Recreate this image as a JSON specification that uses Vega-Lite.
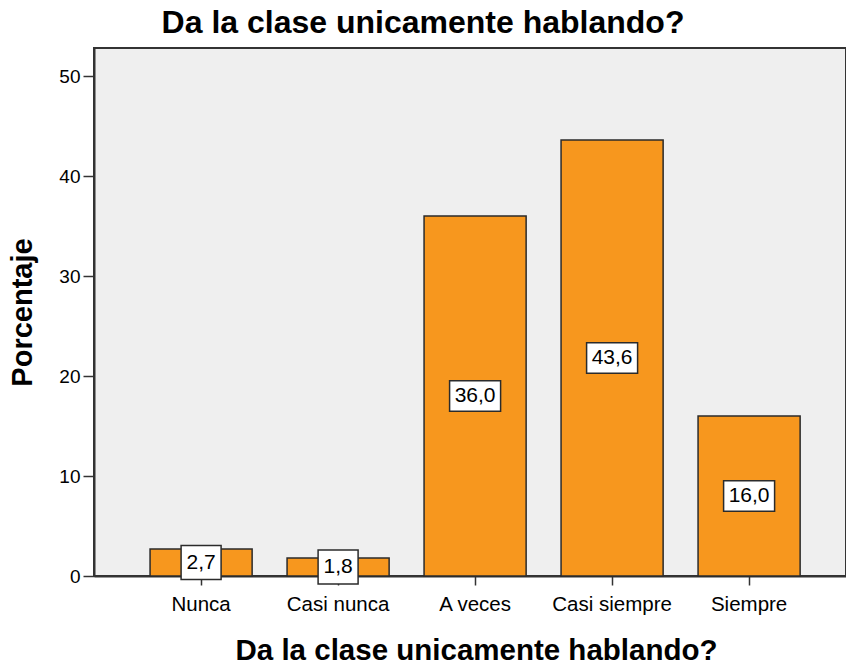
{
  "$schema": "https://vega.github.io/schema/vega-lite/v6.json",
  "autosize": {"type": "none"},
  "padding": {"left": 94, "top": 48, "right": 0, "bottom": 89},
  "width": 752,
  "height": 528,
  "background": "white",
  "title": {
    "text": "Da la clase unicamente hablando?",
    "font": "Liberation Sans",
    "fontSize": 32,
    "fontWeight": "bold",
    "color": "#000000",
    "anchor": "middle",
    "dx": -47,
    "dy": 30,
    "offset": 13,
    "baseline": "alphabetic"
  },
  "data": {
    "values": [
      {"categoria": "Nunca", "pct": 2.7, "etiqueta": "2,7"},
      {"categoria": "Casi nunca", "pct": 1.8, "etiqueta": "1,8"},
      {"categoria": "A veces", "pct": 36.0, "etiqueta": "36,0"},
      {"categoria": "Casi siempre", "pct": 43.6, "etiqueta": "43,6"},
      {"categoria": "Siempre", "pct": 16.0, "etiqueta": "16,0"}
    ]
  },
  "transform": [{"calculate": "datum.pct / 2", "as": "mitad"}],
  "encoding": {
    "x": {
      "field": "categoria",
      "type": "nominal",
      "sort": ["Nunca", "Casi nunca", "A veces", "Casi siempre", "Siempre"],
      "scale": {"paddingInner": 0.255, "paddingOuter": 0.372, "align": 0.55},
      "axis": {
        "title": "Da la clase unicamente hablando?",
        "titleFont": "Liberation Sans",
        "titleFontSize": 29.5,
        "titleFontWeight": "bold",
        "titleColor": "#000000",
        "titleBaseline": "alphabetic",
        "titleX": 382,
        "titleAlign": "center",
        "titleY": 83,
        "labelAngle": 0,
        "labelFont": "Liberation Sans",
        "labelFontSize": 20.5,
        "labelColor": "#000000",
        "labelBaseline": "top",
        "labelPadding": 9,
        "tickSize": 9,
        "tickColor": "#333333",
        "tickWidth": 1.5,
        "domainColor": "#333333",
        "domainWidth": 2,
        "grid": false
      }
    }
  },
  "layer": [
    {
      "mark": {"type": "bar", "color": "#f7971e", "stroke": "#2b2b2b", "strokeWidth": 1.5},
      "encoding": {
        "y": {
          "field": "pct",
          "type": "quantitative",
          "scale": {"domain": [0, 52.8], "nice": false},
          "axis": {
            "title": "Porcentaje",
            "titleFont": "Liberation Sans",
            "titleFontSize": 29,
            "titleFontWeight": "bold",
            "titleColor": "#000000",
            "titleAngle": -90,
            "titleX": -72,
            "titleY": 264,
            "titleAlign": "center",
            "titleBaseline": "middle",
            "values": [0, 10, 20, 30, 40, 50],
            "labelFont": "Liberation Sans",
            "labelFontSize": 19,
            "labelColor": "#000000",
            "labelPadding": 3,
            "tickSize": 11,
            "tickColor": "#333333",
            "tickWidth": 1.5,
            "domainColor": "#333333",
            "domainWidth": 2,
            "grid": false
          }
        }
      }
    },
    {
      "mark": {"type": "point", "filled": true, "fill": "white", "stroke": "#2b2b2b", "strokeWidth": 1.5, "opacity": 1},
      "encoding": {
        "y": {"field": "mitad", "type": "quantitative"},
        "shape": {
          "condition": {"test": "datum.pct >= 10", "value": "M-1,-0.6H1V0.6H-1Z"},
          "value": "M-1,-0.85H1V0.85H-1Z"
        },
        "size": {
          "condition": {"test": "datum.pct >= 10", "value": 2600},
          "value": 1600
        }
      }
    },
    {
      "mark": {"type": "text", "font": "Liberation Sans", "fontSize": 21, "color": "#000000", "baseline": "middle", "align": "center"},
      "encoding": {
        "y": {"field": "mitad", "type": "quantitative"},
        "text": {"field": "etiqueta", "type": "nominal"}
      }
    }
  ],
  "config": {
    "view": {"fill": "#efefef", "stroke": "#333333", "strokeWidth": 2}
  }
}
